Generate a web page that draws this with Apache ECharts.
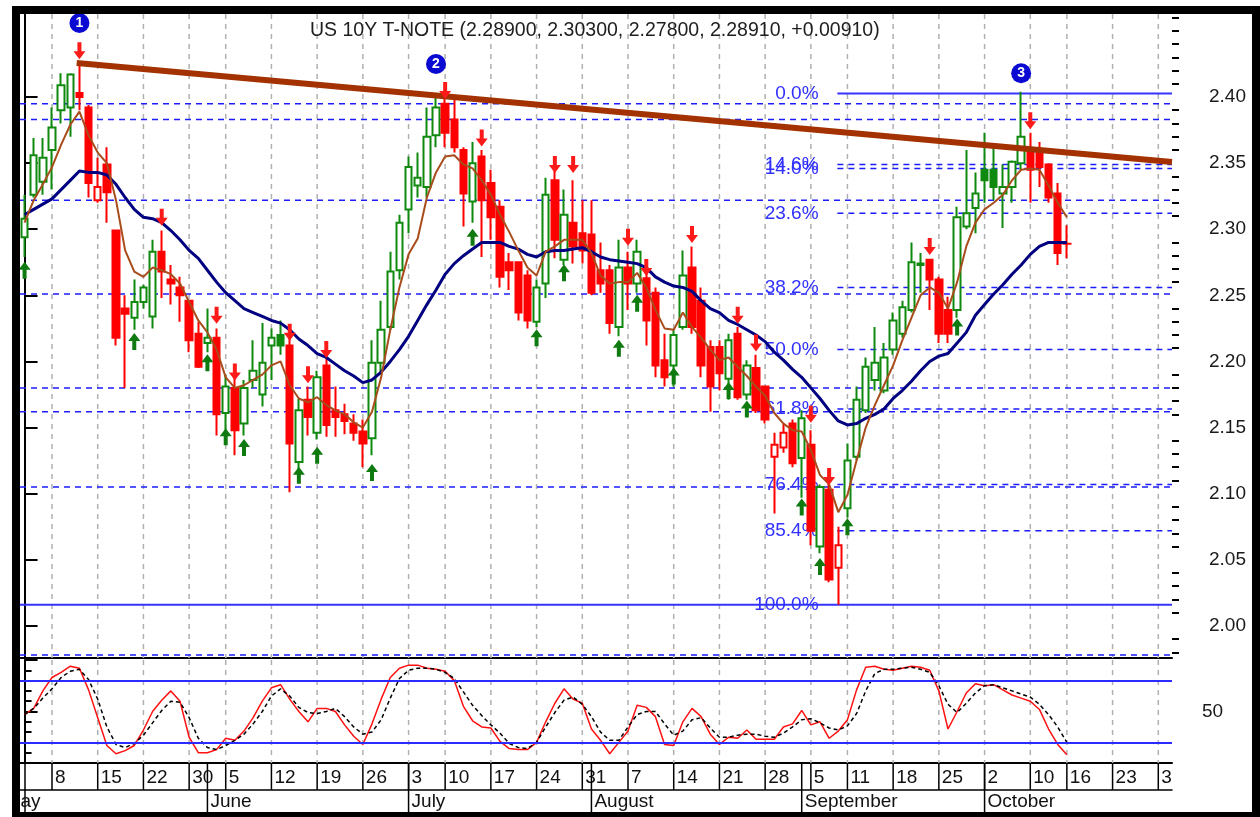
<!DOCTYPE html>
<html>
<head>
<meta charset="utf-8">
<title>US 10Y T-NOTE</title>
<script src="https://cdn.jsdelivr.net/npm/echarts@6.0.0/dist/echarts.min.js"></script>
<style>
  html, body { margin: 0; padding: 0; background: #fff; }
  #chart { width: 1260px; height: 817px; }
</style>
</head>
<body>
<div id="chart"></div>
<script>
// trading days shown on the axis (2017)
const YEAR = 2017;
const dates = [
  '5/3','5/4','5/5','5/8','5/9','5/10','5/11','5/12','5/15','5/16','5/17','5/18','5/19','5/22','5/23','5/24','5/25','5/26','5/30','5/31',
  '6/1','6/2','6/5','6/6','6/7','6/8','6/9','6/12','6/13','6/14','6/15','6/16','6/19','6/20','6/21','6/22','6/23','6/26','6/27','6/28','6/29','6/30',
  '7/3','7/5','7/6','7/7','7/10','7/11','7/12','7/13','7/14','7/17','7/18','7/19','7/20','7/21','7/24','7/25','7/26','7/27','7/28','7/31',
  '8/1','8/2','8/3','8/4','8/7','8/8','8/9','8/10','8/11','8/14','8/15','8/16','8/17','8/18','8/21','8/22','8/23','8/24','8/25','8/28','8/29','8/30','8/31',
  '9/1','9/5','9/6','9/7','9/8','9/11','9/12','9/13','9/14','9/15','9/18','9/19','9/20','9/21','9/22','9/25','9/26','9/27','9/28','9/29',
  '10/2','10/3','10/4','10/5','10/6','10/10','10/11','10/12','10/13','10/16','10/17','10/18','10/19','10/20','10/23','10/24','10/25','10/26','10/27','10/30','10/31'
];
const monthNames = ['May', 'June', 'July', 'August', 'September', 'October'];
const monthStarts = [-2.5, 20, 42, 62, 85, 105];

// daily candles
const opens = [2.294,2.326,2.336,2.360,2.390,2.392,2.403,2.392,2.322,2.349,
  2.299,2.240,2.233,2.245,2.234,2.283,2.262,2.256,2.246,2.221,
  2.214,2.218,2.161,2.180,2.153,2.186,2.175,2.212,2.220,2.212,
  2.124,2.171,2.146,2.197,2.163,2.160,2.153,2.147,2.142,2.199,
  2.226,2.269,2.315,2.333,2.332,2.371,2.395,2.383,2.360,2.321,
  2.355,2.335,2.317,2.275,2.275,2.265,2.230,2.259,2.337,2.277,
  2.305,2.297,2.296,2.269,2.269,2.226,2.271,2.259,2.263,2.252,
  2.201,2.197,2.226,2.271,2.246,2.211,2.211,2.187,2.221,2.175,
  2.195,2.181,2.128,2.135,2.153,2.127,2.137,2.060,2.103,2.044,
  2.089,2.128,2.163,2.186,2.178,2.209,2.221,2.239,2.273,2.277,
  2.262,2.239,2.239,2.302,2.316,2.345,2.345,2.327,2.332,2.350,
  2.358,2.360,2.349,2.327,2.289];
const highs = [2.326,2.369,2.369,2.392,2.418,2.418,2.426,2.394,2.354,2.362,
  2.299,2.250,2.262,2.258,2.292,2.299,2.273,2.264,2.246,2.230,
  2.240,2.225,2.190,2.190,2.186,2.216,2.229,2.225,2.231,2.228,
  2.172,2.181,2.193,2.209,2.181,2.168,2.160,2.156,2.216,2.246,
  2.283,2.311,2.355,2.358,2.392,2.400,2.403,2.398,2.362,2.366,
  2.360,2.345,2.322,2.282,2.275,2.269,2.262,2.339,2.345,2.330,
  2.337,2.322,2.322,2.290,2.273,2.292,2.283,2.292,2.274,2.256,
  2.221,2.224,2.284,2.287,2.256,2.216,2.216,2.221,2.226,2.201,
  2.205,2.181,2.146,2.153,2.156,2.163,2.148,2.107,2.118,2.075,
  2.138,2.181,2.203,2.226,2.214,2.237,2.246,2.290,2.282,2.277,
  2.264,2.249,2.317,2.360,2.343,2.373,2.362,2.349,2.352,2.404,
  2.373,2.366,2.350,2.335,2.303];
const lows = [2.279,2.324,2.326,2.330,2.380,2.370,2.390,2.324,2.320,2.305,
  2.212,2.180,2.224,2.240,2.225,2.248,2.243,2.230,2.207,2.195,
  2.207,2.144,2.147,2.129,2.144,2.180,2.166,2.186,2.205,2.101,
  2.118,2.144,2.141,2.143,2.143,2.145,2.140,2.120,2.129,2.190,
  2.224,2.262,2.297,2.324,2.324,2.362,2.362,2.358,2.302,2.305,
  2.279,2.292,2.256,2.254,2.231,2.225,2.226,2.248,2.278,2.273,
  2.274,2.274,2.250,2.252,2.221,2.219,2.239,2.252,2.212,2.188,
  2.181,2.181,2.224,2.221,2.188,2.162,2.178,2.171,2.171,2.171,
  2.161,2.153,2.085,2.131,2.120,2.097,2.061,2.055,2.033,2.016,
  2.082,2.125,2.161,2.178,2.176,2.205,2.218,2.237,2.252,2.239,
  2.214,2.214,2.233,2.300,2.297,2.320,2.322,2.301,2.320,2.345,
  2.320,2.332,2.320,2.273,2.278];
const closes = [2.308,2.356,2.354,2.377,2.409,2.417,2.400,2.335,2.332,2.328,
  2.218,2.236,2.245,2.256,2.283,2.268,2.259,2.250,2.216,2.196,
  2.218,2.160,2.181,2.148,2.180,2.193,2.199,2.218,2.212,2.138,
  2.163,2.158,2.188,2.152,2.158,2.155,2.146,2.138,2.199,2.224,
  2.268,2.305,2.347,2.339,2.370,2.392,2.373,2.362,2.327,2.350,
  2.322,2.309,2.264,2.269,2.237,2.231,2.256,2.326,2.292,2.311,
  2.287,2.284,2.252,2.259,2.229,2.271,2.259,2.283,2.231,2.197,
  2.188,2.220,2.265,2.226,2.197,2.181,2.191,2.216,2.173,2.197,
  2.163,2.156,2.137,2.146,2.123,2.157,2.072,2.105,2.035,2.061,
  2.125,2.171,2.196,2.199,2.203,2.231,2.241,2.275,2.274,2.262,
  2.221,2.221,2.309,2.312,2.327,2.337,2.332,2.332,2.351,2.370,
  2.345,2.347,2.324,2.282,2.2891];
// g = up day, r = down day (candle colour in the source)
const bias = ('ggggggrrrr' + 'rrgggrrrrr' + 'grgrgggggr' + 'grgrrrrrgg' + 'ggggggrrrg' +
  'rrrrrrggrg' + 'rrrrrgrgrr' + 'rggrrrrgrg' + 'rrrrrgrgrr' + 'gggggggggr' + 'rrgggggggg' + 'rrrrr').split('');

// moving averages
const maFast = [2.305,2.322,2.334,2.347,2.364,2.379,2.389,2.371,2.358,2.350,
  2.322,2.284,2.268,2.264,2.271,2.269,2.266,2.259,2.245,2.231,
  2.222,2.209,2.188,2.180,2.182,2.186,2.190,2.197,2.200,2.182,
  2.172,2.169,2.173,2.167,2.163,2.160,2.154,2.150,2.162,2.188,
  2.224,2.256,2.281,2.293,2.324,2.343,2.355,2.356,2.349,2.346,
  2.337,2.326,2.311,2.298,2.284,2.271,2.265,2.283,2.287,2.292,
  2.292,2.292,2.282,2.265,2.259,2.260,2.260,2.267,2.256,2.239,
  2.225,2.224,2.237,2.226,2.218,2.209,2.201,2.203,2.196,2.189,
  2.181,2.174,2.161,2.153,2.148,2.147,2.133,2.114,2.107,2.086,
  2.099,2.125,2.150,2.167,2.182,2.197,2.216,2.233,2.250,2.256,
  2.252,2.240,2.260,2.287,2.305,2.315,2.320,2.326,2.337,2.345,
  2.346,2.345,2.333,2.320,2.309];
const maSlow = [2.311,2.315,2.319,2.323,2.330,2.337,2.344,2.343,2.343,2.341,
  2.334,2.324,2.315,2.309,2.308,2.305,2.299,2.292,2.284,2.278,
  2.269,2.260,2.252,2.246,2.240,2.237,2.234,2.231,2.229,2.224,
  2.217,2.212,2.206,2.203,2.198,2.193,2.189,2.184,2.186,2.192,
  2.200,2.209,2.219,2.231,2.243,2.254,2.266,2.274,2.280,2.285,
  2.290,2.290,2.290,2.287,2.285,2.281,2.279,2.283,2.284,2.284,
  2.285,2.286,2.283,2.279,2.277,2.276,2.275,2.274,2.271,2.264,
  2.260,2.257,2.256,2.253,2.246,2.240,2.237,2.231,2.228,2.224,
  2.220,2.215,2.207,2.201,2.194,2.188,2.180,2.172,2.163,2.155,
  2.152,2.153,2.157,2.160,2.164,2.172,2.178,2.185,2.193,2.200,
  2.204,2.206,2.214,2.222,2.235,2.243,2.251,2.258,2.266,2.273,
  2.281,2.287,2.290,2.290,2.290];

// stochastic %K / %D
const stochK = [47,53,70,83,88,94,92,71,44,17,
  9,12,17,32,50,61,70,60,25,10,
  10,13,24,22,31,44,60,73,76,62,
  50,40,53,53,50,37,26,18,38,62,
  83,92,95,95,92,91,89,80,55,41,
  35,34,21,14,13,13,20,40,58,72,
  62,58,33,22,9,20,31,56,54,45,
  18,17,40,53,45,28,18,25,24,32,
  23,23,23,35,38,51,37,40,24,31,
  42,71,93,94,91,90,92,94,93,90,
  70,33,50,68,77,75,76,71,66,63,
  60,52,33,18,8];
const stochD = [47,53,63,72,83,89,91,81,62,35,
  18,15,19,27,39,51,60,59,44,24,
  15,13,17,22,28,38,50,65,72,65,
  54,49,48,50,53,45,35,28,30,42,
  63,82,90,92,92,91,88,82,69,56,
  46,37,29,19,15,14,20,35,49,61,
  64,57,45,30,22,22,35,47,50,50,
  38,27,31,42,44,34,25,25,27,28,
  28,26,25,29,35,42,43,39,34,32,
  36,48,70,87,91,91,92,93,91,88,
  75,57,49,58,68,75,76,73,70,67,
  64,57,47,35,20];
const stochBands = [80, 20];

// signal arrows
const downIdx = [6,15,21,23,29,31,33,46,50,58,60,66,68,73,78,80,86,88,99,110];
const downVal = [2.435,2.309,2.235,2.192,2.222,2.190,2.209,2.405,2.369,2.349,2.349,2.294,2.271,2.296,2.235,2.214,2.160,2.113,2.287,2.382];
const upIdx = [0,12,20,22,24,30,32,38,49,56,59,65,67,71,77,79,85,87,90,102];
const upVal = [2.269,2.215,2.199,2.143,2.135,2.114,2.129,2.116,2.294,2.218,2.267,2.210,2.244,2.189,2.178,2.164,2.090,2.045,2.075,2.226];

// numbered peaks
const waveIdx = [6, 45, 109];
const waveVal = [2.456, 2.425, 2.418];
const waveText = ['1', '2', '3'];

// trend line through the peaks
const trendIdx = [5.7, 125.5];
const trendVal = [2.4257, 2.3508];

// retracement levels
const fibStart = 88.9;
const fibLabelAt = 86.85;
const fibDashed = [2.349, 2.346, 2.312, 2.256, 2.209, 2.164, 2.107, 2.072];
const fibSolid = [[88.9, 2.4026], [-0.5, 2.016]];
const fibText = ['0.0%', '14.6%', '14.0%', '23.6%', '38.2%', '50.0%', '61.8%', '76.4%', '85.4%', '100.0%'];
const fibTextVal = [2.4026, 2.349, 2.346, 2.312, 2.256, 2.209, 2.164, 2.107, 2.072, 2.016];
const guideLevels = [2.395, 2.383, 2.322, 2.251, 2.180, 2.162, 2.105, 1.978];

const priceTicks = [2.00, 2.05, 2.10, 2.15, 2.20, 2.25, 2.30, 2.35, 2.40];
const minorTicks = [];
for (let k = 198; k <= 246; k++) {
  if (k % 5 !== 0 || k === 245) minorTicks.push(k / 100);
}

const TITLE = 'US 10Y T-NOTE (2.28900, 2.30300, 2.27800, 2.28910, +0.00910)';
const PRICE_MIN = 1.9757, PRICE_MAX = 2.4628;
const X_MIN = -0.5, X_MAX = 125.5;
const GREEN = '#0f8a0f', RED = '#ff0000';
const FONT = '"Liberation Sans", Arial, sans-serif';

// first trading day of each week
const weekStarts = [];
dates.forEach((d, i) => {
  if (i === 0) return;
  const [m, day] = d.split('/').map(Number);
  const [pm, pd] = dates[i - 1].split('/').map(Number);
  if (new Date(YEAR, m - 1, day).getDay() < new Date(YEAR, pm - 1, pd).getDay()) weekStarts.push(i);
});

const candles = opens.map((o, i) => {
  const col = bias[i] === 'g' ? GREEN : RED;
  const fill = closes[i] > o ? '#ffffff' : col;
  return {
    value: [o, closes[i], lows[i], highs[i]],
    itemStyle: { color: fill, color0: fill, borderColor: col, borderColor0: col }
  };
});

function vLines(xAxisIndex, yAxisIndex, idx, style, z) {
  return {
    type: 'custom', xAxisIndex, yAxisIndex, z, silent: true, clip: true,
    data: idx.map(i => [i]),
    renderItem(params, api) {
      const cs = params.coordSys;
      const x = api.coord([api.value(0), 0])[0];
      return { type: 'line', shape: { x1: x, y1: cs.y, x2: x, y2: cs.y + cs.height }, style };
    }
  };
}

function hSegments(rows, style, z) {
  return {
    type: 'custom', xAxisIndex: 1, yAxisIndex: 0, z, silent: true, clip: true,
    data: rows,
    renderItem(params, api) {
      const a = api.coord([api.value(0), api.value(2)]);
      const b = api.coord([api.value(1), api.value(2)]);
      return { type: 'line', shape: { x1: a[0], y1: a[1], x2: b[0], y2: b[1] }, style };
    }
  };
}

function rowLabels(xAxisIndex, yAxisIndex, starts, textOf) {
  return {
    type: 'custom', xAxisIndex, yAxisIndex, z: 3, silent: true, clip: true,
    data: starts.map((s, k) => [s, k]),
    renderItem(params, api) {
      const cs = params.coordSys;
      const x = api.coord([api.value(0), 0])[0];
      return {
        type: 'group',
        children: [
          { type: 'line', shape: { x1: x, y1: cs.y, x2: x, y2: cs.y + cs.height },
            style: { stroke: '#000', lineWidth: 1.5 } },
          { type: 'text', x: x + 3, y: cs.y + cs.height / 2 + 1,
            style: { text: textOf(api.value(0), api.value(1)), font: '19px ' + FONT, fill: '#111',
                     textAlign: 'left', textVerticalAlign: 'middle' } }
        ]
      };
    }
  };
}

const dashed = { stroke: '#1c1cff', lineWidth: 1.5, lineDash: [6, 5] };
const gridDash = { stroke: '#b0b0b0', lineWidth: 1.5, lineDash: [5, 5] };
const noAxisBits = { axisTick: { show: false }, axisLabel: { show: false }, splitLine: { show: false } };

const option = {
  animation: false,
  backgroundColor: '#ffffff',
  title: {
    text: TITLE, left: 310, top: 21, padding: 0,
    textStyle: { fontFamily: FONT, fontSize: 19.5, fontWeight: 'normal', color: '#1e1e1e' }
  },
  grid: [
    { left: 20, right: 88, top: 14, height: 644, outerBoundsMode: 'none' },
    { left: 20, right: 88, top: 660, height: 103, outerBoundsMode: 'none' },
    { left: 20, right: 88, top: 763, height: 27, outerBoundsMode: 'none' },
    { left: 20, right: 88, top: 790, height: 22, outerBoundsMode: 'none' }
  ],
  xAxis: [
    Object.assign({ type: 'category', gridIndex: 0, data: dates, boundaryGap: true,
      axisLine: { show: true, onZero: false, lineStyle: { color: '#000', width: 2 } } }, noAxisBits),
    Object.assign({ type: 'value', gridIndex: 0, min: X_MIN, max: X_MAX, show: false }, noAxisBits),
    Object.assign({ type: 'category', gridIndex: 1, data: dates, boundaryGap: true,
      axisLine: { show: true, onZero: false, lineStyle: { color: '#000', width: 2 } } }, noAxisBits),
    Object.assign({ type: 'value', gridIndex: 1, min: X_MIN, max: X_MAX, show: false }, noAxisBits),
    Object.assign({ type: 'value', gridIndex: 2, min: X_MIN, max: X_MAX,
      axisLine: { show: true, onZero: false, lineStyle: { color: '#000', width: 1.5 } } }, noAxisBits),
    Object.assign({ type: 'value', gridIndex: 3, min: X_MIN, max: X_MAX, show: false }, noAxisBits)
  ],
  yAxis: [
    {
      type: 'value', gridIndex: 0, position: 'right', min: PRICE_MIN, max: PRICE_MAX,
      axisLine: { show: true, lineStyle: { color: '#000', width: 2 } },
      axisTick: { show: true, length: 13, customValues: priceTicks, lineStyle: { color: '#000', width: 2 } },
      axisLabel: { show: true, customValues: priceTicks, formatter: v => v.toFixed(2), margin: 37,
        color: '#1a1a1a', fontSize: 19, fontFamily: FONT },
      splitLine: { show: false }
    },
    {
      type: 'value', gridIndex: 0, position: 'right', min: PRICE_MIN, max: PRICE_MAX,
      axisLine: { show: false },
      axisTick: { show: true, length: 7, customValues: minorTicks, lineStyle: { color: '#000', width: 2 } },
      axisLabel: { show: false }, splitLine: { show: false }
    },
    {
      type: 'value', gridIndex: 1, position: 'right', min: 0, max: 100, interval: 50,
      axisLine: { show: true, lineStyle: { color: '#000', width: 2 } },
      axisTick: { show: true, length: 13, lineStyle: { color: '#000', width: 2 } },
      minorTick: { show: true, splitNumber: 5, length: 7, lineStyle: { color: '#000', width: 2 } },
      axisLabel: { formatter: v => (v === 50 ? '50' : ''), margin: 30, color: '#1a1a1a', fontSize: 19, fontFamily: FONT },
      splitLine: { show: false }, minorSplitLine: { show: false }
    },
    Object.assign({ type: 'value', gridIndex: 2, position: 'right', min: 0, max: 1,
      axisLine: { show: true, lineStyle: { color: '#000', width: 1.5 } } }, noAxisBits),
    Object.assign({ type: 'value', gridIndex: 3, position: 'right', min: 0, max: 1,
      axisLine: { show: true, lineStyle: { color: '#000', width: 1.5 } } }, noAxisBits)
  ],
  series: [
    vLines(1, 0, weekStarts, gridDash, 1),
    vLines(3, 2, weekStarts, gridDash, 1),
    hSegments(guideLevels.map(v => [X_MIN, X_MAX, v]), dashed, 2),
    hSegments(fibDashed.map(v => [fibStart, X_MAX, v]), dashed, 2),
    hSegments(fibSolid.map(r => [r[0], X_MAX, r[1]]), { stroke: '#3434ff', lineWidth: 2 }, 2),
    {
      type: 'scatter', xAxisIndex: 1, yAxisIndex: 0, z: 2, silent: true,
      data: fibTextVal.map(v => [fibLabelAt, v]),
      symbol: 'circle', symbolSize: 0.1, itemStyle: { color: 'rgba(0,0,0,0)', opacity: 1 },
      label: { show: true, position: 'left', distance: 0, formatter: p => fibText[p.dataIndex],
        color: '#3030ff', opacity: 1, fontSize: 19, fontFamily: FONT }
    },
    {
      type: 'candlestick', name: 'US 10Y', xAxisIndex: 0, yAxisIndex: 0, z: 3,
      barWidth: 7, data: candles,
      itemStyle: { borderWidth: 2 }
    },
    {
      type: 'line', name: 'MA slow', xAxisIndex: 0, yAxisIndex: 0, z: 4, data: maSlow,
      symbol: 'none', lineStyle: { color: '#000080', width: 3 }
    },
    {
      type: 'line', name: 'MA fast', xAxisIndex: 0, yAxisIndex: 0, z: 4, data: maFast,
      symbol: 'none', lineStyle: { color: '#a84c1c', width: 2 }
    },
    {
      type: 'line', name: 'Trend', xAxisIndex: 1, yAxisIndex: 0, z: 5,
      data: trendIdx.map((x, k) => [x, trendVal[k]]),
      symbol: 'none', lineStyle: { color: '#a33200', width: 6 }
    },
    {
      type: 'scatter', xAxisIndex: 0, yAxisIndex: 0, z: 6, silent: true,
      data: downIdx.map((x, k) => [x, downVal[k]]),
      symbol: 'path://M4,0L8,0L8,9L12,9L6,17L0,9L4,9Z', symbolSize: [12, 17],
      itemStyle: { color: '#ff1a1a', opacity: 1 }
    },
    {
      type: 'scatter', xAxisIndex: 0, yAxisIndex: 0, z: 6, silent: true,
      data: upIdx.map((x, k) => [x, upVal[k]]),
      symbol: 'path://M6,0L12,8L8,8L8,17L4,17L4,8L0,8Z', symbolSize: [12, 17],
      itemStyle: { color: '#0f7a0f', opacity: 1 }
    },
    {
      type: 'scatter', xAxisIndex: 0, yAxisIndex: 0, z: 7, silent: true,
      data: waveIdx.map((x, k) => [x, waveVal[k]]),
      symbol: 'circle', symbolSize: 20, itemStyle: { color: '#0a0ad2', opacity: 1 },
      label: { show: true, position: 'inside', formatter: p => waveText[p.dataIndex],
        color: '#fff', fontSize: 14, fontWeight: 'bold', fontFamily: FONT }
    },
    {
      type: 'line', name: '%K', xAxisIndex: 2, yAxisIndex: 2, z: 4, data: stochK,
      symbol: 'none', lineStyle: { color: '#ff1010', width: 1.5 },
      markLine: {
        silent: true, symbol: 'none', label: { show: false }, animation: false,
        lineStyle: { color: '#2b2bff', width: 2, type: 'solid' },
        data: stochBands.map(v => ({ yAxis: v }))
      }
    },
    {
      type: 'line', name: '%D', xAxisIndex: 2, yAxisIndex: 2, z: 4, data: stochD,
      symbol: 'none', lineStyle: { color: '#000', width: 1.5, type: [4, 3] }
    },
    rowLabels(4, 3, weekStarts, i => dates[i].split('/')[1]),
    vLines(4, 3, monthStarts, { stroke: '#000', lineWidth: 1.5 }, 3),
    rowLabels(5, 4, monthStarts, (s, k) => monthNames[k])
  ],
  graphic: [
    { type: 'rect', z: 100, shape: { x: 12, y: 6, width: 1248, height: 8 }, style: { fill: '#000' } },
    { type: 'rect', z: 100, shape: { x: 12, y: 6, width: 8, height: 811 }, style: { fill: '#000' } },
    { type: 'rect', z: 100, shape: { x: 1252, y: 6, width: 8, height: 811 }, style: { fill: '#000' } },
    { type: 'rect', z: 100, shape: { x: 12, y: 812, width: 1248, height: 5 }, style: { fill: '#000' } }
  ]
};

const chart = echarts.init(document.getElementById('chart'));
chart.setOption(option);
</script>
</body>
</html>
